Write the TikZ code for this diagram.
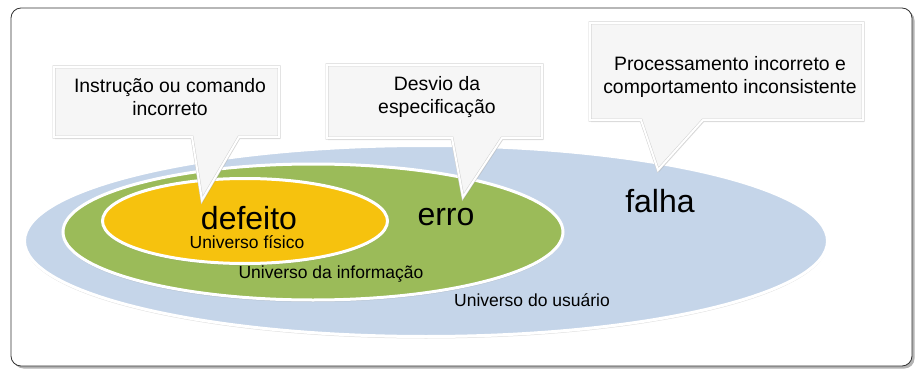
\documentclass[tikz,border=0pt]{standalone}
\usepackage{fontspec}
\setmainfont{Liberation Sans}
\usepackage{tikz}
\usepackage{xcolor}
\usetikzlibrary{shapes, shadows}
\definecolor{azulU}{HTML}{C5D5E9}
\definecolor{verdeI}{HTML}{9BBB59}
\definecolor{amareloF}{HTML}{F6C20E}
\tikzstyle{moldura} = [rounded corners=10pt, draw=black!80, line width=0.8pt, fill=white, drop shadow={opacity=0.6, shadow xshift=2.5pt, shadow yshift=-2.5pt}]
\tikzstyle{universo} = [ellipse, draw=white, line width=3pt, inner sep=0pt, drop shadow={opacity=0.25, shadow xshift=0pt, shadow yshift=-2pt}]
\tikzstyle{balao} = [fill=gray!7, draw=gray!35, line width=0.5pt, double=white, double distance=2pt, drop shadow={opacity=0.25, shadow xshift=1pt, shadow yshift=-2pt}]
\tikzstyle{palavra} = [font=\fontsize{32}{38}\selectfont, anchor=base, inner sep=0pt]
\tikzstyle{rotulo} = [font=\fontsize{17.5}{20}\selectfont, anchor=base, inner sep=0pt]
\tikzstyle{texto} = [font=\fontsize{19.4}{23}\selectfont, align=center, inner sep=0pt]

\begin{document}
\begin{tikzpicture}[x=1pt, y=-1pt]
    \useasboundingbox (0,0) rectangle (919,369);
    \draw[moldura] (11,8) rectangle (912,366);
    % os tres universos
    \node(usuario)[universo, fill=azulU, minimum width=803pt, minimum height=191pt] at (426,241){};
    \node(informacao)[universo, fill=verdeI, minimum width=500pt, minimum height=136pt] at (313,232){};
    \node(fisico)[universo, fill=amareloF, minimum width=285pt, minimum height=85pt] at (245,221){};
    \node(defeito)[palavra] at (249,229){defeito};
    \node(erro)[palavra] at (446,225){erro};
    \node(falha)[palavra] at (660,212){falha};
    \node(uFisico)[rotulo] at (247,248){Universo físico};
    \node(uInformacao)[rotulo] at (331,278){Universo da informação};
    \node(uUsuario)[rotulo] at (532,306){Universo do usuário};
    % baloes
    \draw[balao] (54,67) -- (279,67) -- (279,137) -- (239,137) -- (202,200) -- (192,137) -- (54,137) -- cycle;
    \draw[balao] (327,65) -- (542,65) -- (542,138) -- (502,138) -- (463,197) -- (452,138) -- (327,138) -- cycle;
    \draw[balao] (590,23) -- (863,23) -- (863,120) -- (703,120) -- (658,170) -- (641,120) -- (590,120) -- cycle;
    \node(tDefeito)[texto] at (170,97){Instrução ou comando\\incorreto};
    \node(tErro)[texto] at (437,97){Desvio da\\especificação};
    \node(tFalha)[texto] at (730,77){Processamento incorreto e\\comportamento inconsistente};
\end{tikzpicture}
\end{document}
